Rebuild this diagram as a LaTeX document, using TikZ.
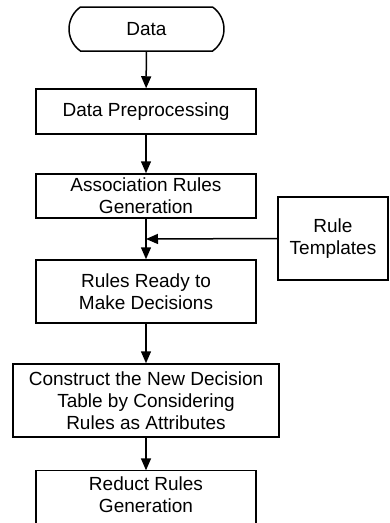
\documentclass[tikz,border=0pt]{standalone}
\usepackage{fontspec}
\setmainfont{Liberation Sans}
\usetikzlibrary{shapes.misc,arrows.meta}
\begin{document}
\begin{tikzpicture}[x=1pt,y=-1pt,
  txt/.style={rectangle,inner sep=0pt,align=center,
    font=\fontsize{19}{22}\selectfont},
  box/.style={txt,draw,line width=1.5pt},
  arr/.style={line width=1.5pt,-{Triangle[length=12pt,width=10pt]}}]
\useasboundingbox (0,0) rectangle (389,523);
\node[box,rounded rectangle,rounded rectangle arc length=110,minimum width=155pt,minimum height=44pt] (data) at (146.5,29) {Data};
\node[box,minimum width=220pt,minimum height=45pt] (prep) at (146,111.5) {Data Preprocessing};
\node[box,minimum width=220pt,minimum height=44pt] (assoc) at (146,196) {Association Rules\\Generation};
\node[box,minimum width=110pt,minimum height=83pt] (tmpl) at (333,238.5) {Rule\\Templates};
\node[box,minimum width=220pt,minimum height=63pt] (ready) at (146,291.5) {Rules Ready to\\Make Decisions};
\node[box,minimum width=266pt,minimum height=73pt] (cons) at (146,400.5) {Construct the New Decision\\Table by Considering\\Rules as Attributes};
\node[txt,minimum width=220pt,minimum height=48pt] (red) at (146,494.5) {Reduct Rules\\Generation};
\draw[line width=1.5pt] ([yshift=-22pt]red.south west) -- (red.north west) -- (red.north east) -- ([yshift=-22pt]red.south east);
\coordinate (j) at (146,239);
\draw[arr] (data) -- (prep);
\draw[arr] (prep) -- (assoc);
\draw[arr] (assoc) -- (ready);
\draw[arr] (tmpl.west) -- (j);
\draw[arr] (ready) -- (cons);
\draw[arr] (cons) -- (red);
\end{tikzpicture}
\end{document}
